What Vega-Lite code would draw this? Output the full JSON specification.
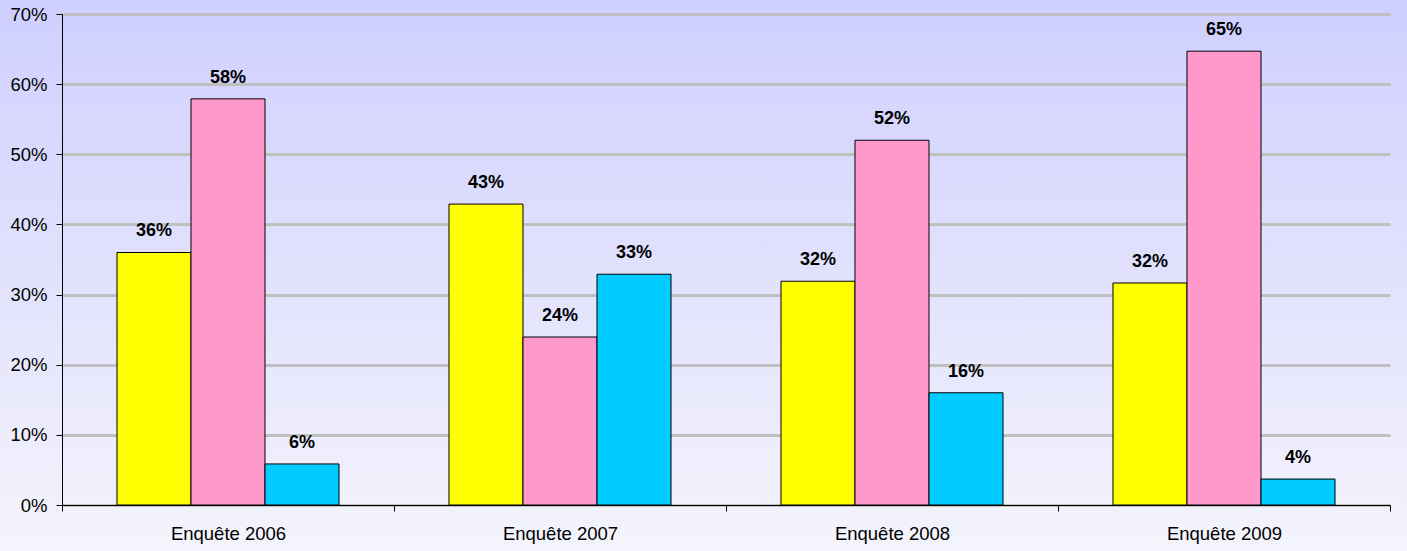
{
  "$schema": "https://vega.github.io/schema/vega-lite/v6.json",
  "autosize": {"type": "none"},
  "width": 1407,
  "height": 551,
  "padding": 0,
  "background": "#E8E8FD",
  "config": {
    "font": "Liberation Sans",
    "view": {"stroke": null, "fill": {"gradient": "linear", "x1": 0, "y1": 0, "x2": 0, "y2": 1, "stops": [{"offset": 0, "color": "#CFCFFF"}, {"offset": 1, "color": "#F4F4FC"}]}}
  },
  "data": {
    "values": [
      {"enquete": "Enquête 2006", "serie": "Série 1", "v": 36.0, "label": "36%"},
      {"enquete": "Enquête 2006", "serie": "Série 2", "v": 57.9, "label": "58%"},
      {"enquete": "Enquête 2006", "serie": "Série 3", "v": 5.85, "label": "6%"},
      {"enquete": "Enquête 2007", "serie": "Série 1", "v": 42.9, "label": "43%"},
      {"enquete": "Enquête 2007", "serie": "Série 2", "v": 23.95, "label": "24%"},
      {"enquete": "Enquête 2007", "serie": "Série 3", "v": 32.9, "label": "33%"},
      {"enquete": "Enquête 2008", "serie": "Série 1", "v": 31.9, "label": "32%"},
      {"enquete": "Enquête 2008", "serie": "Série 2", "v": 52.0, "label": "52%"},
      {"enquete": "Enquête 2008", "serie": "Série 3", "v": 16.0, "label": "16%"},
      {"enquete": "Enquête 2009", "serie": "Série 1", "v": 31.65, "label": "32%"},
      {"enquete": "Enquête 2009", "serie": "Série 2", "v": 64.7, "label": "65%"},
      {"enquete": "Enquête 2009", "serie": "Série 3", "v": 3.7, "label": "4%"}
    ]
  },
  "encoding": {
    "x": {
      "field": "enquete", "type": "nominal", "title": null, "sort": null,
      "scale": {"paddingInner": 0, "paddingOuter": 0, "range": [62, 1390]},
      "axis": {"offset": -46, "labelAngle": 0, "tickBand": "extent", "domainColor": "#000000", "domainWidth": 1, "tickColor": "#000000", "tickSize": 6, "labelFontSize": 18.5, "labelColor": "#000000", "labelPadding": 13, "grid": false}
    },
    "xOffset": {"field": "serie", "type": "nominal", "sort": null, "scale": {"paddingInner": 0, "paddingOuter": 0.743}},
    "y": {
      "field": "v", "type": "quantitative", "title": null,
      "scale": {"domain": [0, 70], "nice": false, "range": [505, 14]},
      "axis": {"offset": -62, "values": [0, 10, 20, 30, 40, 50, 60, 70], "labelExpr": "datum.value + '%'", "domainColor": "#000000", "tickColor": "#000000", "tickSize": 6, "labelFontSize": 18.5, "labelColor": "#000000", "labelPadding": 9, "gridColor": "#C0C0C0", "gridWidth": 3, "gridOpacity": 1}
    }
  },
  "layer": [
    {
      "mark": {"type": "bar", "stroke": "#000000", "strokeWidth": 1},
      "encoding": {
        "color": {"field": "serie", "type": "nominal", "legend": null, "scale": {"domain": ["Série 1", "Série 2", "Série 3"], "range": ["#FFFF00", "#FF99CC", "#00CCFF"]}}
      }
    },
    {
      "mark": {"type": "text", "baseline": "alphabetic", "dy": -16, "fontWeight": "bold", "fontSize": 18, "color": "#000000"},
      "encoding": {"text": {"field": "label"}}
    }
  ]
}
